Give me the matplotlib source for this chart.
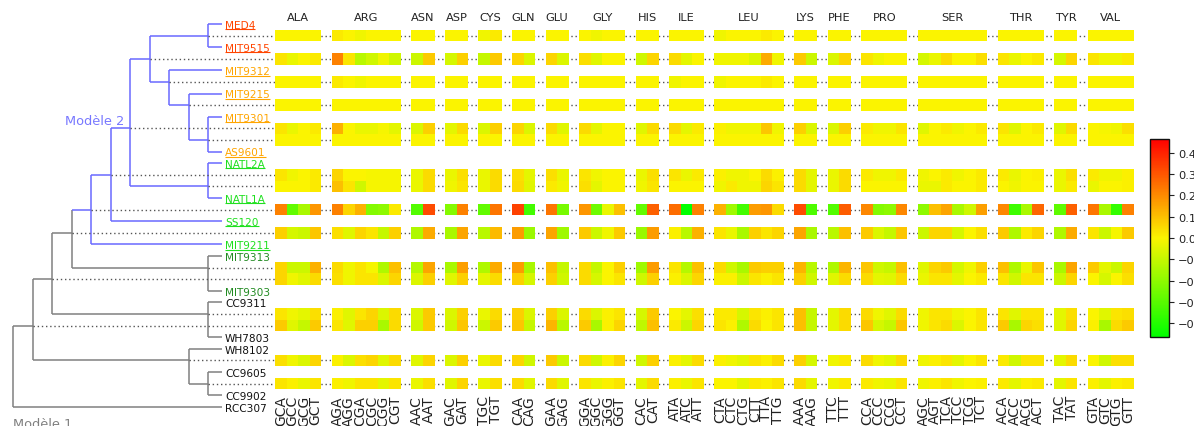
import numpy as np
import matplotlib
matplotlib.use("Agg")
import matplotlib.pyplot as plt
from matplotlib.colors import LinearSegmentedColormap, Normalize
from matplotlib.cm import ScalarMappable

# ---------------------------------------------------------------- data
amino_acids = ["ALA", "ARG", "ASN", "ASP", "CYS", "GLN", "GLU", "GLY", "HIS",
               "ILE", "LEU", "LYS", "PHE", "PRO", "SER", "THR", "TYR", "VAL"]
codons = [
    ["GCA", "GCC", "GCG", "GCT"],
    ["AGA", "AGG", "CGA", "CGC", "CGG", "CGT"],
    ["AAC", "AAT"],
    ["GAC", "GAT"],
    ["TGC", "TGT"],
    ["CAA", "CAG"],
    ["GAA", "GAG"],
    ["GGA", "GGC", "GGG", "GGT"],
    ["CAC", "CAT"],
    ["ATA", "ATC", "ATT"],
    ["CTA", "CTC", "CTG", "CTT", "TTA", "TTG"],
    ["AAA", "AAG"],
    ["TTC", "TTT"],
    ["CCA", "CCC", "CCG", "CCT"],
    ["AGC", "AGT", "TCA", "TCC", "TCG", "TCT"],
    ["ACA", "ACC", "ACG", "ACT"],
    ["TAC", "TAT"],
    ["GTA", "GTC", "GTG", "GTT"],
]

# strains, top to bottom, with their row slot in the tree layout
leaf_names = ["MED4", "MIT9515", "MIT9312", "MIT9215", "MIT9301", "AS9601",
              "NATL2A", "NATL1A", "SS120", "MIT9211", "MIT9313", "MIT9303",
              "CC9311", "WH7803", "WH8102", "CC9605", "CC9902", "RCC307"]
leaf_slots = [0, 2, 4, 6, 8, 11, 12, 15, 17, 19, 20, 23, 24, 27, 28, 30, 32, 33]
leaf_colors = ["#ff4500", "#ff4500", "#ffa500", "#ffa500", "#ffa500", "#ffa500",
               "#1fe01f", "#1fe01f", "#1fe01f", "#1fe01f", "#228b22", "#228b22",
               "#111111", "#111111", "#111111", "#111111", "#111111", "#111111"]
leaf_underlined = [True] * 10 + [False] * 8

# tree topology: internal node -> (upper child, lower child)
node_children = {
    "n1": ("MED4", "MIT9515"),
    "n2": ("n1", "n3"),
    "n3": ("MIT9312", "n4"),
    "n4": ("MIT9215", "n6"),
    "n5": ("n2", "n8"),
    "n6": ("MIT9301", "AS9601"),
    "n7": ("n5", "SS120"),
    "n8": ("NATL2A", "NATL1A"),
    "n9": ("n7", "MIT9211"),
    "n10": ("n9", "n11"),
    "n11": ("MIT9313", "MIT9303"),
    "n12": ("n10", "n13"),
    "n13": ("CC9311", "WH7803"),
    "n14": ("n12", "n15"),
    "n15": ("WH8102", "n16"),
    "n16": ("CC9605", "CC9902"),
    "root": ("n14", "RCC307"),
}
node_slots = {"n1": 1, "n2": 3, "n3": 5, "n4": 7, "n5": 9, "n6": 10, "n7": 13,
              "n8": 14, "n9": 16, "n10": 18, "n11": 21, "n12": 22, "n13": 25,
              "n14": 26, "n15": 29, "n16": 31}
model2_clade = "n9"

# codon usage deviation at each internal node (59 codons, same order as `codons`)
row_n1 = [0, 0, 0, 0,  .02, 0, -.02, 0, 0, 0,  0, 0,  0, 0,  -.02, .02,  0, 0,  0, 0,
          0, -.02, 0, 0,  0, 0,  0, 0, 0,  -.02, 0, 0, 0, .02, 0,  0, 0,  0, 0,  0, 0, 0, 0,
          0, 0, 0, 0, 0, 0,  0, 0, 0, 0,  0, 0,  0, 0, 0, 0]
row_n2 = [.03, -.03, 0, .02,  .22, .03, -.12, -.08, -.02, -.08,  -.09, .08,  -.07, .07,
          -.10, .08,  .06, -.06,  .06, -.06,  .04, -.05, 0, 0,  -.08, .06,  .05, -.04, 0,
          -.02, -.02, -.02, -.06, .14, -.02,  .08, -.09,  -.06, .06,  .03, -.02, 0, 0,
          -.07, -.03, .05, 0, 0, .04,  .03, -.03, 0, .02,  -.07, .06,  .03, -.02, -.02, .02]
row_n3 = [0, 0, 0, 0,  .02, 0, -.02, 0, 0, 0,  0, 0,  0, 0,  0, 0,  0, 0,  0, 0,
          0, 0, 0, 0,  0, 0,  -.02, 0, 0,  -.02, 0, 0, 0, .02, 0,  0, 0,  0, 0,  0, 0, 0, 0,
          0, 0, 0, 0, 0, 0,  0, 0, 0, 0,  0, 0,  0, 0, 0, 0]
row_n4 = [0.0] * 59
row_n5 = [.03, -.03, 0, .02,  .13, 0, -.03, -.03, -.01, -.04,  -.06, .07,  -.04, .05,
          -.06, .07,  .06, -.06,  .05, -.05,  .05, -.04, 0, 0,  -.05, .05,  .05, -.04, .02,
          .01, -.02, -.02, -.02, .09, -.02,  .07, -.06,  -.06, .07,  .02, -.02, -.02, .03,
          -.05, 0, .02, -.02, 0, .02,  .03, -.05, 0, .02,  -.05, .05,  0, -.01, -.02, .04]
row_n6 = [0.0] * 59
row_n7 = [.03, -.02, 0, .02,  .06, 0, 0, -.01, -.01, -.01,  -.03, .05,  -.03, .04,
          -.03, .05,  .04, -.04,  .04, -.03,  .03, -.02, 0, 0,  -.03, .04,  .03, -.03, .02,
          .01, -.02, -.02, 0, .05, .01,  .05, -.04,  -.03, .05,  .02, -.02, -.02, .02,
          -.02, 0, .02, -.02, 0, .02,  .02, -.03, 0, .01,  -.03, .04,  .02, -.02, -.02, .01]
row_n8 = [0, 0, 0, .02,  .10, .03, -.08, -.01, -.01, -.01,  -.03, .05,  -.02, .03,
          -.03, .05,  .05, -.05,  .02, -.02,  .04, -.04, 0, 0,  -.02, .03,  0, 0, 0,
          -.02, .02, -.02, -.02, .06, .03,  .05, -.04,  -.03, .05,  0, 0, 0, 0,
          -.03, -.03, .02, 0, 0, .02,  0, -.02, 0, 0,  -.03, .02,  -.03, 0, 0, .01]
row_n9 = [.22, -.28, -.15, .18,  .22, .06, .13, -.22, -.20, .02,  -.31, .32,  -.22, .22,
          -.28, .24,  .34, -.34,  .24, -.24,  .18, -.26, -.03, .10,  -.28, .28,  .26, -.46, .22,
          .13, -.17, -.34, .17, .18, .05,  .32, -.32,  -.31, .29,  .21, -.22, -.20, .21,
          -.20, .10, .15, -.15, -.08, .16,  .21, -.35, -.15, .27,  -.29, .28,  .24, -.15, -.37, .22]
row_n10 = [.07, -.07, -.09, .09,  .04, -.05, .06, .03, -.10, .07,  -.14, .14,  -.15, .15,
           -.12, .11,  .17, -.18,  .15, -.17,  .08, -.09, -.02, .08,  -.18, .17,  .01, -.12, .13,
           .03, -.03, -.15, .07, .03, .06,  .15, -.15,  -.12, .10,  .08, -.06, -.10, .09,
           -.09, .06, .06, -.07, 0, .04,  .08, -.14, .02, .06,  -.14, .14,  .03, -.09, -.01, .08]
row_n11 = [.06, -.09, -.09, .13,  .05, -.02, .03, -.01, -.14, .10,  -.13, .15,  -.15, .16,
           -.14, .14,  .17, -.15,  .10, -.10,  .05, -.10, 0, .07,  -.17, .17,  .03, -.13, .10,
           .05, -.08, -.15, .08, .07, .07,  .12, -.12,  -.14, .12,  .09, -.08, -.10, .10,
           -.05, .06, .08, -.07, -.02, .07,  .10, -.14, -.03, .09,  -.15, .15,  .08, -.04, -.09, .06]
row_n12 = [.06, -.02, -.05, .05,  .04, -.02, .03, .03, -.06, .06,  -.06, .07,  -.05, .07,
           -.04, .05,  .07, -.07,  .07, -.08,  .05, -.07, 0, .03,  -.08, .07,  .01, -.06, .06,
           .01, .01, -.09, .03, .01, .03,  .07, -.08,  -.05, .05,  .05, -.04, -.05, .05,
           -.03, .03, .03, -.04, 0, .02,  .03, -.08, .03, .03,  -.09, .06,  0, -.07, 0, .04]
row_n13 = [.03, -.02, -.04, .04,  .01, -.05, .03, .06, -.06, .05,  -.06, .08,  -.06, .07,
           -.03, .05,  .07, -.06,  .07, -.06,  .05, -.06, .01, .03,  -.07, .08,  0, -.04, .04,
           .02, .02, -.07, .03, .01, .03,  .10, -.10,  -.04, .05,  .05, -.02, -.05, .05,
           -.02, .03, .03, -.02, 0, .03,  .03, -.05, .03, .03,  -.04, .04,  0, -.05, .03, .04]
row_n14 = [.08, -.05, -.10, .08,  .03, -.05, .07, .07, -.15, .05,  -.08, .08,  -.08, .09,
           -.09, .08,  .09, -.10,  .12, -.12,  .08, -.15, .01, .06,  -.11, .10,  .02, -.09, .06,
           .03, .01, -.14, .05, 0, .03,  .10, -.10,  -.04, .05,  .09, -.07, -.10, .09,
           -.02, .03, .05, -.06, 0, .03,  .08, -.15, .06, .04,  -.05, .06,  .01, -.15, .05, .08]
row_n15 = [.04, -.02, -.06, .06,  .01, -.06, .04, .06, -.05, .05,  -.05, .06,  -.06, .07,
           -.03, .05,  .06, -.08,  .08, -.09,  .05, -.08, .01, .06,  -.08, .07,  .01, -.04, .05,
           .01, -.02, -.04, .03, .01, .05,  .07, -.07,  -.02, .02,  .05, -.02, -.04, .05,
           -.02, .01, .03, -.04, 0, .03,  .02, -.08, .03, .03,  -.04, .05,  0, -.08, .04, .04]
row_n16 = [.03, .01, -.03, .03,  .01, -.02, .03, .03, -.04, .03,  -.03, .04,  -.05, .06,
           -.03, .04,  .05, -.05,  .05, -.05,  .03, -.03, .01, .03,  -.04, .05,  .01, -.03, .03,
           0, 0, -.04, .02, .01, .03,  .05, -.04,  -.02, .02,  .02, -.02, -.03, .03,
           -.02, .01, .03, -.02, 0, .01,  .02, -.04, .01, .02,  -.04, .03,  .01, -.04, .01, .02]

row_nodes = ["n1", "n2", "n3", "n4", "n5", "n6", "n7", "n8",
             "n9", "n10", "n11", "n12", "n13", "n14", "n15", "n16"]
heat_rows = [row_n1, row_n2, row_n3, row_n4, row_n5, row_n6, row_n7, row_n8,
             row_n9, row_n10, row_n11, row_n12, row_n13, row_n14, row_n15, row_n16]

VMIN, VMAX = -0.465, 0.465
cbar_ticks = [0.4, 0.3, 0.2, 0.1, 0.0, -0.1, -0.2, -0.3, -0.4]

# ---------------------------------------------------------------- figure
W, H, DPI = 1194, 427, 100
fig = plt.figure(figsize=(W / DPI, H / DPI), dpi=DPI)
fig.patch.set_facecolor("white")

SLOT0_PX, SLOT_PX = 25.0, 11.6
ylims = ((H - SLOT0_PX) / SLOT_PX, -SLOT0_PX / SLOT_PX)

BLUE = "#6a6aff"
GREY = "#808080"
DOT = "#555555"
DOTSTYLE = (0, (1, 2))

# --- tree ---------------------------------------------------------------
TREE_R_PX = 275
LEVEL0_PX, LEVEL_PX = 13.0, 19.5
ax_t = fig.add_axes([0, 0, TREE_R_PX / W, 1])
ax_t.set_xlim(-LEVEL0_PX / LEVEL_PX, (TREE_R_PX - LEVEL0_PX) / LEVEL_PX)
ax_t.set_ylim(*ylims)
ax_t.axis("off")

heights = {}


def height(n):
    if n not in node_children:
        return 0
    if n not in heights:
        heights[n] = 1 + max(height(c) for c in node_children[n])
    return heights[n]


max_h = height("root")
tip_x = (222 - LEVEL0_PX) / LEVEL_PX
label_x = (225 - LEVEL0_PX) / LEVEL_PX

pos = {}
for name, s in zip(leaf_names, leaf_slots):
    pos[name] = (tip_x, s)
for n in node_children:
    if n in node_slots:
        pos[n] = (max_h - height(n), node_slots[n])
pos["root"] = (0.0, None)

blue_set = set()


def collect(n):
    blue_set.add(n)
    for c in node_children.get(n, ()):
        collect(c)


collect(model2_clade)


def color_of(n):
    return BLUE if n in blue_set else GREY


for n, (c1, c2) in node_children.items():
    x = max_h - height(n)
    y1, y2 = pos[c1][1], pos[c2][1]
    ax_t.plot([x, x], [y1, y2], color=color_of(n), lw=1.1, solid_capstyle="butt")
    for c in (c1, c2):
        ax_t.plot([x, pos[c][0]], [pos[c][1]] * 2, color=color_of(c), lw=1.1,
                  solid_capstyle="butt")

# dotted guides from each internal node to the heat map
for n in row_nodes:
    x, y = pos[n]
    ax_t.plot([x, ax_t.get_xlim()[1]], [y, y], color=DOT, lw=1.0, ls=DOTSTYLE)

# leaf labels
leaf_texts = []
for name, s, col, ul in zip(leaf_names, leaf_slots, leaf_colors, leaf_underlined):
    t = ax_t.text(label_x, s + 0.33, name, color=col, fontsize=7.6,
                  ha="left", va="baseline")
    leaf_texts.append((t, s, col, ul))

ax_t.text(pos["n5"][0] - 0.3, pos["n5"][1] - 0.35, "Modèle 2", color="#7777ff",
          fontsize=9.3, ha="right", va="baseline")
ax_t.text(0.0, 34.72, "Modèle 1", color=GREY, fontsize=9.3, ha="left",
          va="baseline")

# --- heat map -------------------------------------------------------------
HM_L, HM_R = 275, 1134
GAP = 0.9
col_edges = [0.0]
col_valid = []
cell_centers = []
group_centers = []
x = 0.0
for gi, cods in enumerate(codons):
    if gi > 0:
        x += GAP
        col_edges.append(x)
        col_valid.append(False)
    start = x
    for c in cods:
        cell_centers.append(x + 0.5)
        x += 1.0
        col_edges.append(x)
        col_valid.append(True)
    group_centers.append((start + x) / 2)
total_w = x
col_valid = np.array(col_valid)

n_slots = len(leaf_slots) + len(row_nodes)
Z = np.full((n_slots, len(col_valid)), np.nan)
for n, vals in zip(row_nodes, heat_rows):
    assert len(vals) == 59
    Z[node_slots[n], col_valid] = vals
y_edges = np.arange(n_slots + 1) - 0.5

ax_h = fig.add_axes([HM_L / W, 0, (HM_R - HM_L) / W, 1])
ax_h.set_xlim(0, total_w)
ax_h.set_ylim(*ylims)
ax_h.axis("off")

cmap = LinearSegmentedColormap.from_list("gyr", ["#00ff00", "#fbf500", "#ff0000"])
norm = Normalize(VMIN, VMAX)

ax_h.hlines([node_slots[n] for n in row_nodes], 0, total_w, colors=DOT,
            linewidth=1.0, linestyles=[DOTSTYLE], zorder=1)
ax_h.pcolormesh(col_edges, y_edges, np.ma.masked_invalid(Z), cmap=cmap, norm=norm,
                shading="flat", edgecolors="none", antialiased=False, zorder=2)

header_y = (18 - SLOT0_PX) / SLOT_PX
for aa, gx in zip(amino_acids, group_centers):
    ax_h.text(gx, header_y, aa, fontsize=8.2, color="#222222", ha="center",
              va="center")

codon_y = (396 - SLOT0_PX) / SLOT_PX
flat_codons = [c for cods in codons for c in cods]
for c, cx in zip(flat_codons, cell_centers):
    ax_h.text(cx, codon_y, c, fontsize=10, color="#222222", rotation=90,
              ha="center", va="top")

# --- colour bar -------------------------------------------------------------
cax = fig.add_axes([1150 / W, (H - 338) / H, 19 / W, 198 / H])
cb = fig.colorbar(ScalarMappable(norm=norm, cmap=cmap), cax=cax, ticks=cbar_ticks)
cb.outline.set_linewidth(1.0)
cb.outline.set_edgecolor("#111111")
cax.tick_params(labelsize=8.2, length=3.5, width=0.8, colors="#222222", pad=3)

# underline the Prochlorococcus strain names
fig.canvas.draw()
renderer = fig.canvas.get_renderer()
inv = ax_t.transData.inverted()
for t, s, col, ul in leaf_texts:
    if not ul:
        continue
    bb = t.get_window_extent(renderer)
    x0 = inv.transform((bb.x0, 0))[0]
    x1 = inv.transform((bb.x1, 0))[0]
    ax_t.plot([x0, x1], [s + 0.45, s + 0.45], color=col, lw=0.8,
              solid_capstyle="butt")

fig.savefig("out.png", dpi=DPI, facecolor="white")
